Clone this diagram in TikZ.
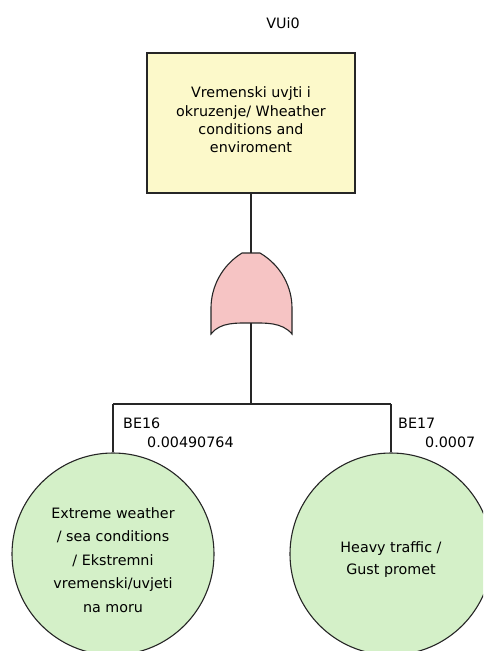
\documentclass[tikz,border=0pt]{standalone}
\usepackage{fontspec}
\setmainfont{DejaVu Sans}
\begin{document}
\begin{tikzpicture}[x=1pt,y=-1pt,
  line/.style={draw=black!85,line width=1.1pt},
  evbox/.style={draw=black!85,line width=1.1pt,fill=boxyellow,minimum width=208pt,minimum height=140pt,align=center,inner sep=0pt,font=\fontsize{14.3}{18.3}\selectfont},
  basic/.style={circle,draw=black!85,line width=1.1pt,fill=basicgreen,minimum size=202pt,inner sep=0pt},
  ctext/.style={align=center,inner sep=0pt,font=\fontsize{14.3}{23.5}\selectfont},
  lbl/.style={anchor=west,inner sep=0pt,font=\fontsize{14.3}{16}\selectfont}]
\definecolor{boxyellow}{RGB}{252,249,202}
\definecolor{basicgreen}{RGB}{212,240,200}
\definecolor{gatepink}{RGB}{246,196,196}
\useasboundingbox (0,0) rectangle (483,651);
\clip (0,0) rectangle (483,651);
\fill[white] (0,0) rectangle (483,651);
% title
\node[inner sep=0pt,font=\fontsize{14.3}{16}\selectfont] (title) at (283,23) {VUi0};
% top event
\node[evbox] (top) at (251,123) {};
\node[ctext,font=\fontsize{14.3}{18.3}\selectfont] (ttop) at (251,120) {Vremenski uvjti i\\okruzenje/ Wheather\\conditions and\\enviroment};
% OR gate
\coordinate (gtop) at (251,253);
\coordinate (gbot) at (251,323);
\draw[line,fill=gatepink] (242,253) -- (260,253)
  .. controls (282,266) and (292,288) .. (292,308) -- (292,334)
  .. controls (282,322) and (265,323) .. (gbot)
  .. controls (237,323) and (220,322) .. (211,334) -- (211,308)
  .. controls (211,288) and (221,266) .. (242,253) -- cycle;
% basic events
\node[basic] (be16) at (113,554) {};
\node[ctext] (t16) at (113,560) {Extreme weather\\/ sea conditions\\/ Ekstremni\\vremenski/uvjeti\\na moru};
\node[basic] (be17) at (391,554) {};
\node[ctext,font=\fontsize{14.3}{22}\selectfont] (t17) at (391,560) {Heavy traffic /\\Gust promet};
% connectors
\coordinate (jc) at (251,404);
\coordinate (jl) at (113,404);
\coordinate (jr) at (391,404);
\draw[line] (top.south) -- (gtop);
\draw[line] (gbot) -- (jc);
\draw[line] (jl) -- (jr);
\draw[line] (jl) -- (be16.north);
\draw[line] (jr) -- (be17.north);
% labels
\node[lbl] (l16) at (123,423) {BE16};
\node[lbl] (p16) at (147,442) {0.00490764};
\node[lbl] (l17) at (398,423) {BE17};
\node[lbl] (p17) at (425,442) {0.0007};
\end{tikzpicture}
\end{document}
